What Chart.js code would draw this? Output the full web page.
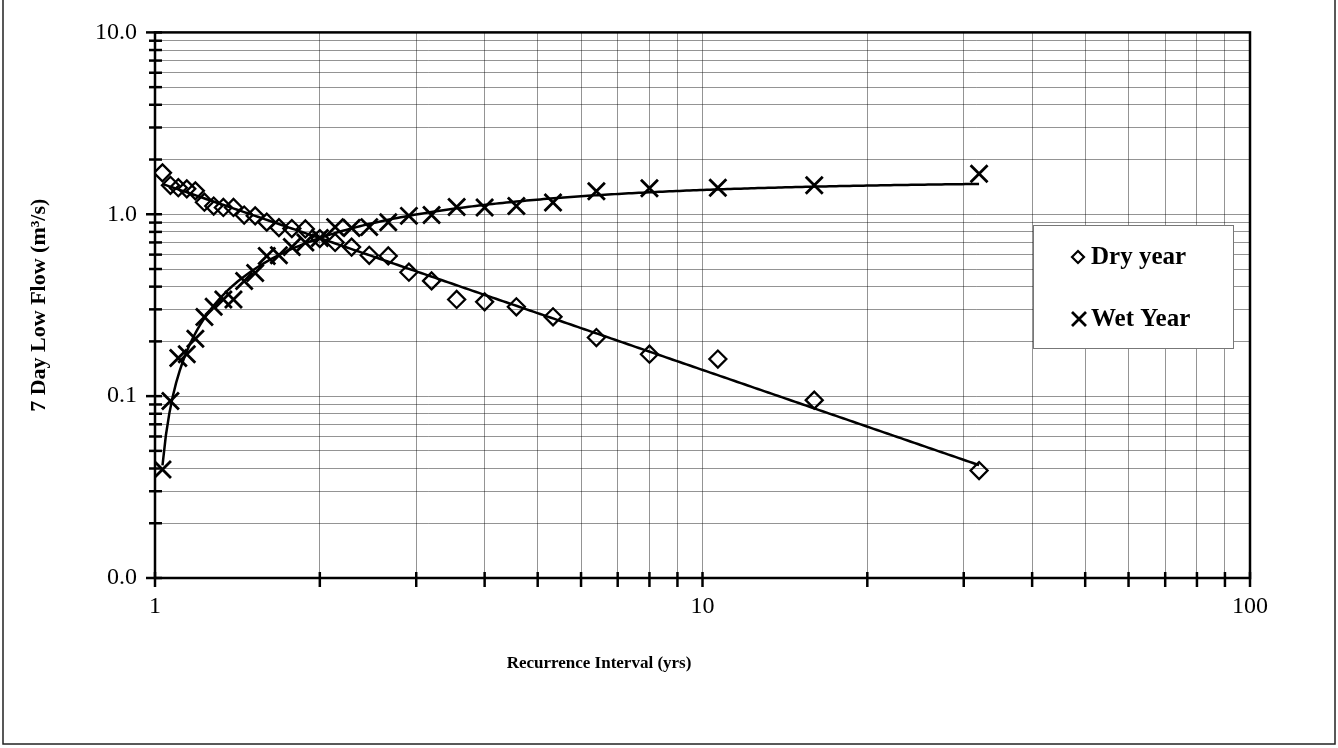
<!DOCTYPE html>
<html>
<head>
<meta charset="utf-8">
<title>7 Day Low Flow</title>
<script src="https://cdn.jsdelivr.net/npm/chart.js@4.4.1/dist/chart.umd.min.js"></script>
<style>
  html, body { margin: 0; padding: 0; background: #fff; }
  #wrap { width: 1338px; height: 748px; }
</style>
</head>
<body>
<div id="wrap"><canvas id="grafico" width="1338" height="748"></canvas></div>
<script>
// Recurrence interval (yrs) for ranks 1..31
const recurrence = [32.000, 16.000, 10.667, 8.000, 6.400, 5.333, 4.571, 4.000, 3.556, 3.200,
  2.909, 2.667, 2.462, 2.286, 2.133, 2.000, 1.882, 1.778, 1.684, 1.600,
  1.524, 1.455, 1.391, 1.333, 1.280, 1.231, 1.185, 1.143, 1.103, 1.067, 1.032];

// 7 day low flow (m3/s) at each recurrence interval
const dryYear = [0.039, 0.095, 0.160, 0.170, 0.210, 0.273, 0.310, 0.330, 0.340, 0.430,
  0.480, 0.590, 0.595, 0.660, 0.700, 0.735, 0.830, 0.835, 0.845, 0.905,
  0.980, 0.990, 1.090, 1.090, 1.110, 1.165, 1.345, 1.380, 1.400, 1.443, 1.690];

const wetYear = [1.670, 1.443, 1.400, 1.390, 1.340, 1.160, 1.110, 1.090, 1.095, 0.990,
  0.980, 0.905, 0.850, 0.840, 0.850, 0.740, 0.700, 0.660, 0.595, 0.590,
  0.475, 0.430, 0.340, 0.340, 0.310, 0.272, 0.207, 0.170, 0.162, 0.094, 0.0395];

// axis decades and their labels
const yDecades = [0.01, 0.1, 1, 10];
const yLabels = ['0.0', '0.1', '1.0', '10.0'];
const xDecades = [1, 10, 100];
const xLabels = ['1', '10', '100'];

const fonte = 'Liberation Serif, Times New Roman, serif';

// 1..9 within each decade, for the grid
function gridValues(decades) {
  let vals = [];
  for (let i = 0; i < decades.length - 1; i++) {
    vals.push(decades[i]);
    for (let k = 2; k < 10; k++) vals.push(+(decades[i] * k).toPrecision(3));
  }
  vals.push(decades[decades.length - 1]);
  return vals;
}

// least squares on log10 x / log10 y  ->  y = 10^(a + b log x)
function powerFit(xs, ys) {
  let n = xs.length, sx = 0, sy = 0, sxx = 0, sxy = 0;
  for (let i = 0; i < n; i++) {
    let lx = Math.log10(xs[i]), ly = Math.log10(ys[i]);
    sx += lx; sy += ly; sxx += lx * lx; sxy += lx * ly;
  }
  let b = (n * sxy - sx * sy) / (n * sxx - sx * sx);
  let a = (sy - b * sx) / n;
  return x => Math.pow(10, a + b * Math.log10(x));
}

// dry year: power trend on the recurrence interval
// wet year: same trend form on the complementary interval T/(T-1)
const complementar = recurrence.map(t => t / (t - 1));
const fitDry = powerFit(recurrence, dryYear);
const fitWet = powerFit(complementar, wetYear);

const tMin = Math.min(...recurrence), tMax = Math.max(...recurrence);
let curvaDry = [], curvaWet = [];
for (let i = 0; i <= 240; i++) {
  let t = tMin * Math.pow(tMax / tMin, i / 240);
  curvaDry.push({ x: t, y: fitDry(t) });
  curvaWet.push({ x: t, y: fitWet(t / (t - 1)) });
}

const pontosDry = recurrence.map((t, i) => ({ x: t, y: dryYear[i] }));
const pontosWet = recurrence.map((t, i) => ({ x: t, y: wetYear[i] }));

const moldura = {
  id: 'moldura',
  beforeDraw(chart) {
    const ctx = chart.ctx;
    ctx.save();
    ctx.fillStyle = '#fff';
    ctx.fillRect(0, 0, chart.width, chart.height);
    ctx.restore();
  },
  afterDatasetsDraw(chart) {
    const ctx = chart.ctx, a = chart.chartArea;
    const xs = chart.scales.x, ys = chart.scales.y;
    ctx.save();
    ctx.strokeStyle = '#000';
    ctx.lineWidth = 2.5;

    // tick marks crossing the axes
    ys.ticks.forEach(t => {
      const y = ys.getPixelForValue(t.value);
      const major = yDecades.includes(t.value);
      ctx.beginPath();
      ctx.moveTo(a.left - (major ? 9 : 6), y);
      ctx.lineTo(a.left + 7, y);
      ctx.stroke();
    });
    xs.ticks.forEach(t => {
      const x = xs.getPixelForValue(t.value);
      ctx.beginPath();
      ctx.moveTo(x, a.bottom - 6);
      ctx.lineTo(x, a.bottom + 9);
      ctx.stroke();
    });

    // plot frame
    ctx.strokeRect(a.left, a.top, a.right - a.left, a.bottom - a.top);

    // x axis title
    ctx.fillStyle = '#000';
    ctx.font = 'bold 17px ' + fonte;
    ctx.textAlign = 'center';
    ctx.textBaseline = 'middle';
    ctx.fillText('Recurrence Interval (yrs)', 599, 664);

    // legend box
    const lx = 1033, ly = 225, lw = 200, lh = 123;
    ctx.fillStyle = '#fff';
    ctx.fillRect(lx, ly, lw, lh);
    ctx.lineWidth = 1;
    ctx.strokeStyle = '#777';
    ctx.strokeRect(lx + 0.5, ly + 0.5, lw, lh);

    ctx.strokeStyle = '#000';
    ctx.fillStyle = '#000';
    ctx.font = 'bold 25px ' + fonte;
    ctx.textBaseline = 'middle';
    ctx.textAlign = 'left';

    // diamond
    let cx = 1078, cy = 257;
    ctx.lineWidth = 2.2;
    ctx.beginPath();
    ctx.moveTo(cx - 6, cy); ctx.lineTo(cx, cy - 6); ctx.lineTo(cx + 6, cy); ctx.lineTo(cx, cy + 6);
    ctx.closePath();
    ctx.stroke();
    ctx.fillText(chart.data.datasets[0].label, 1091, cy + 1);

    // cross
    cx = 1079; cy = 319;
    ctx.lineWidth = 2.8;
    ctx.beginPath();
    ctx.moveTo(cx - 7, cy - 7); ctx.lineTo(cx + 7, cy + 7);
    ctx.moveTo(cx + 7, cy - 7); ctx.lineTo(cx - 7, cy + 7);
    ctx.stroke();
    ctx.fillText(chart.data.datasets[1].label, 1091, cy + 1);

    // page border
    ctx.lineWidth = 1.5;
    ctx.strokeStyle = '#222';
    ctx.strokeRect(3, -2, 1332, 746);
    ctx.restore();
  }
};

const ctx = document.getElementById('grafico').getContext('2d');
const myChart = new Chart(ctx, {
  type: 'scatter',
  data: {
    datasets: [
      {
        label: 'Dry year',
        data: pontosDry,
        pointStyle: 'rectRot',
        pointRadius: 8.5,
        pointBorderWidth: 2.3,
        pointBorderColor: '#000',
        pointBackgroundColor: 'rgba(255,255,255,0)',
        showLine: false,
        order: 0
      },
      {
        label: 'Wet Year',
        data: pontosWet,
        pointStyle: 'crossRot',
        pointRadius: 12,
        pointBorderWidth: 2.8,
        pointBorderColor: '#000',
        showLine: false,
        order: 0
      },
      {
        label: 'dry trend',
        data: curvaDry,
        showLine: true,
        pointRadius: 0,
        borderColor: '#000',
        borderWidth: 2.5,
        order: 1
      },
      {
        label: 'wet trend',
        data: curvaWet,
        showLine: true,
        pointRadius: 0,
        borderColor: '#000',
        borderWidth: 2.5,
        order: 1
      }
    ]
  },
  options: {
    responsive: false,
    animation: false,
    devicePixelRatio: 1,
    layout: { padding: { left: 0, top: 26, right: 88, bottom: 0 } },
    plugins: {
      legend: { display: false },
      tooltip: { enabled: false }
    },
    scales: {
      x: {
        type: 'logarithmic',
        min: 1,
        max: 100,
        border: { display: false },
        grid: { color: 'rgba(0,0,0,0.42)', lineWidth: 1, drawTicks: false },
        ticks: {
          color: '#000',
          font: { family: fonte, size: 24 },
          padding: 14,
          maxRotation: 0,
          autoSkip: false,
          callback: v => {
            const i = xDecades.indexOf(v);
            return i >= 0 ? xLabels[i] : '';
          }
        },
        afterBuildTicks: scale => { scale.ticks = gridValues(xDecades).map(v => ({ value: v })); },
        afterFit: scale => { scale.height = 170; }
      },
      y: {
        type: 'logarithmic',
        min: 0.01,
        max: 10,
        border: { display: false },
        grid: { color: 'rgba(0,0,0,0.42)', lineWidth: 1, drawTicks: false },
        ticks: {
          color: '#000',
          font: { family: fonte, size: 24 },
          padding: 18,
          autoSkip: false,
          callback: v => {
            const i = yDecades.indexOf(v);
            return i >= 0 ? yLabels[i] : '';
          }
        },
        title: {
          display: true,
          text: '7 Day Low Flow (m³/s)',
          color: '#000',
          font: { family: fonte, size: 22, weight: 'bold' },
          padding: { top: 26, bottom: 0 }
        },
        afterBuildTicks: scale => { scale.ticks = gridValues(yDecades).map(v => ({ value: v })); },
        afterFit: scale => { scale.width = 155; }
      }
    }
  },
  plugins: [moldura]
});
</script>
</body>
</html>
